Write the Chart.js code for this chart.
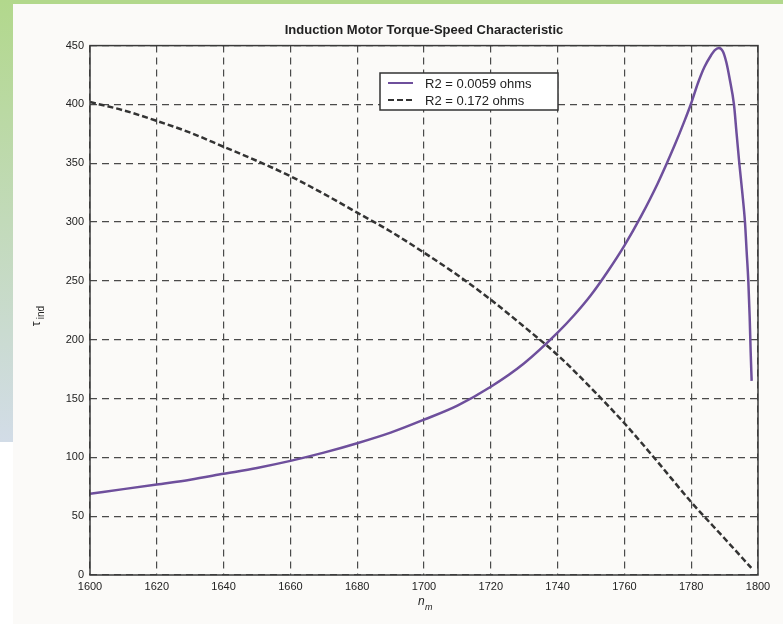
<!DOCTYPE html>
<html>
<head>
<meta charset="utf-8">
<title>Induction Motor Torque-Speed Characteristic</title>
<script src="https://cdn.jsdelivr.net/npm/chart.js@4/dist/chart.umd.min.js"></script>
<style>
  body { margin: 0; background: #ffffff; width: 783px; height: 624px; overflow: hidden; position: relative; }
  #topband { position: absolute; left: 0; top: 0; width: 783px; height: 4px; background: #b2d88c; }
  #sideband { position: absolute; left: 0; top: 0; width: 13px; height: 442px; background: linear-gradient(#b2d88c, #d2dce7); }
  #panel { position: absolute; left: 13px; top: 4px; width: 770px; height: 620px; background: #fbfaf8; }
  #chart { position: absolute; left: 0; top: 0; }
</style>
</head>
<body>
<div id="topband"></div>
<div id="sideband"></div>
<div id="panel"></div>
<canvas id="chart" width="783" height="624"></canvas>
<script>
// shaft speed (r/min) and induced torque (N.m)
const speedLowR = [1600, 1610, 1620, 1630, 1640, 1650, 1660, 1670, 1680, 1690, 1700, 1710, 1720, 1730, 1740, 1745, 1750, 1755, 1760, 1765, 1770, 1775, 1778, 1780, 1782, 1784, 1786, 1787, 1788.3, 1789.5, 1790.5, 1791.5, 1792.8, 1793.6, 1794.4, 1795.3, 1796.1, 1796.6, 1797.1, 1797.5, 1797.8, 1798.1];
const torqueLowR = [69, 73, 77, 81, 86, 91, 97, 104, 112, 121, 132, 144, 160, 180, 206, 221, 238, 258, 280, 305, 333, 365, 386, 401, 418, 432, 442, 446, 448, 445, 436, 422, 400, 375, 350, 325, 300, 275, 250, 220, 190, 165];

const speedHighR = [1600, 1610, 1620, 1630, 1640, 1650, 1660, 1670, 1680, 1690, 1700, 1710, 1720, 1730, 1740, 1750, 1760, 1770, 1780, 1790, 1798];
const torqueHighR = [402, 395, 386, 376, 364, 352, 339, 324, 308, 292, 274, 255, 234, 211, 187, 159, 129, 96, 62, 31, 6];

const seriesLabels = ['R2 = 0.0059 ohms', 'R2 = 0.172 ohms'];
const xTicks = [1600, 1620, 1640, 1660, 1680, 1700, 1720, 1740, 1760, 1780, 1800];
const yTicks = [0, 50, 100, 150, 200, 250, 300, 350, 400, 450];

const FONT = '"Liberation Sans", Arial, Helvetica, sans-serif';

// box around the plot, like matlab's axes
const framePlugin = {
  id: 'frame',
  afterDatasetsDraw(chart) {
    const { ctx, chartArea: a } = chart;
    ctx.save();
    ctx.strokeStyle = '#3a3a3a';
    ctx.lineWidth = 1.5;
    ctx.strokeRect(a.left, a.top, a.right - a.left, a.bottom - a.top);
    ctx.restore();
  }
};

// legend box inside the axes, top right
const boxLegend = {
  id: 'boxLegend',
  afterDraw(chart) {
    const { ctx } = chart;
    const x = 380, y = 73, w = 178, h = 37;
    ctx.save();
    ctx.fillStyle = '#ffffff';
    ctx.fillRect(x, y, w, h);
    ctx.strokeStyle = '#333333';
    ctx.lineWidth = 1.5;
    ctx.strokeRect(x, y, w, h);
    chart.data.datasets.forEach((ds, i) => {
      const ly = y + 10 + i * 17;
      ctx.beginPath();
      ctx.strokeStyle = ds.borderColor;
      ctx.lineWidth = 2;
      ctx.setLineDash(ds.borderDash || []);
      ctx.moveTo(x + 8, ly);
      ctx.lineTo(x + 33, ly);
      ctx.stroke();
      ctx.setLineDash([]);
      ctx.fillStyle = '#222222';
      ctx.font = '13px ' + FONT;
      ctx.textBaseline = 'middle';
      ctx.fillText(ds.label, x + 45, ly + 1);
    });
    ctx.restore();
  }
};

// axis labels with subscripts
const axisLabels = {
  id: 'axisLabels',
  afterDraw(chart) {
    const { ctx, chartArea: a } = chart;
    ctx.save();
    ctx.fillStyle = '#222222';
    ctx.textBaseline = 'alphabetic';
    // x label: n_m
    const cx = (a.left + a.right) / 2;
    ctx.font = 'italic 12px ' + FONT;
    ctx.fillText('n', cx - 6, 605);
    ctx.font = 'italic 9px ' + FONT;
    ctx.fillText('m', cx + 1, 610);
    // y label: tau_ind
    ctx.translate(40, (a.top + a.bottom) / 2 + 4);
    ctx.rotate(-Math.PI / 2);
    ctx.font = '12px ' + FONT;
    ctx.fillText('\u03c4', -12, 0);
    ctx.font = '10px ' + FONT;
    ctx.fillText('ind', -5, 4);
    ctx.restore();
  }
};

const gridStyle = {
  color: '#4a4a4a',
  lineWidth: 1.2,
  drawTicks: false
};

new Chart(document.getElementById('chart'), {
  type: 'line',
  data: {
    datasets: [
      {
        label: seriesLabels[0],
        data: speedLowR.map((s, i) => ({ x: s, y: torqueLowR[i] })),
        borderColor: '#6e4f9c',
        borderWidth: 2.5,
        pointRadius: 0,
        cubicInterpolationMode: 'monotone',
        fill: false
      },
      {
        label: seriesLabels[1],
        data: speedHighR.map((s, i) => ({ x: s, y: torqueHighR[i] })),
        borderColor: '#333333',
        borderWidth: 2.5,
        borderDash: [6, 3],
        pointRadius: 0,
        cubicInterpolationMode: 'monotone',
        fill: false
      }
    ]
  },
  options: {
    responsive: false,
    animation: false,
    layout: { padding: { left: 0, right: 25, top: 0, bottom: 0 } },
    plugins: {
      legend: { display: false },
      tooltip: { enabled: false },
      title: {
        display: true,
        text: 'Induction Motor Torque-Speed Characteristic',
        fullSize: false,
        color: '#222222',
        font: { family: FONT, size: 13, weight: 'bold', lineHeight: 1.2 },
        padding: { top: 23, bottom: 7 }
      }
    },
    scales: {
      x: {
        type: 'linear',
        min: xTicks[0],
        max: xTicks[xTicks.length - 1],
        afterBuildTicks: (scale) => { scale.ticks = xTicks.map(v => ({ value: v })); },
        afterFit: (scale) => { scale.height = 49; },
        grid: gridStyle,
        border: { display: false, dash: [7, 5] },
        ticks: {
          color: '#222222',
          font: { family: FONT, size: 11 },
          padding: 5,
          maxRotation: 0,
          autoSkip: false,
          callback: (v) => String(v)
        }
      },
      y: {
        min: yTicks[0],
        max: yTicks[yTicks.length - 1],
        afterBuildTicks: (scale) => { scale.ticks = yTicks.map(v => ({ value: v })); },
        afterFit: (scale) => { scale.width = 90; },
        grid: gridStyle,
        border: { display: false, dash: [7, 5] },
        ticks: {
          color: '#222222',
          font: { family: FONT, size: 11 },
          padding: 6,
          callback: (v) => String(v)
        }
      }
    }
  },
  plugins: [framePlugin, boxLegend, axisLabels]
});
</script>
</body>
</html>
